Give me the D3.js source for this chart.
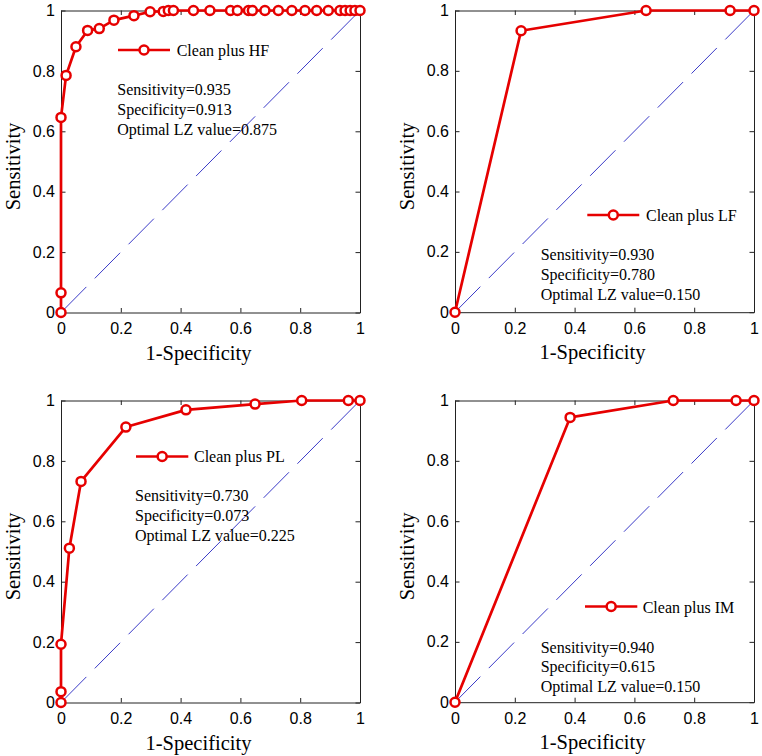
<!DOCTYPE html>
<html><head><meta charset="utf-8">
<script src="https://cdn.jsdelivr.net/npm/d3@7"></script>
<style>body{margin:0;background:#fff}svg{display:block}</style>
</head><body>
<script>
// ---- data ----
const hfX = [0,0,0,0.017,0.05,0.089,0.128,0.177,0.244,0.298,0.342,0.359,0.376,0.443,0.498,0.567,0.590,0.627,0.640,0.682,0.727,0.772,0.816,0.855,0.894,0.933,0.950,0.967,0.983,1.0];
const hfY = [0,0.065,0.646,0.785,0.88,0.934,0.94,0.968,0.983,0.996,0.997,1,1,1,1,1,1,1,1,1,1,1,1,1,1,1,1,1,1,1];
const lfX = [0,0.221,0.639,0.920,1];
const lfY = [0,0.933,1,1,1];
const plX = [0,0,0,0.028,0.067,0.217,0.418,0.649,0.805,0.961,1];
const plY = [0,0.036,0.193,0.511,0.732,0.912,0.969,0.988,1,1,1];
const imX = [0,0.385,0.730,0.940,1];
const imY = [0,0.944,1,1,1];
const tickVals = [0,0.2,0.4,0.6,0.8,1];
const tickLabels = ["0","0.2","0.4","0.6","0.8","1"];
const legendNames = ["Clean plus HF","Clean plus LF","Clean plus PL","Clean plus IM"];
const sensVals = ["0.935","0.930","0.730","0.940"];
const specVals = ["0.913","0.780","0.073","0.615"];
const lzVals = ["0.875","0.150","0.225","0.150"];
const xLabel = "1-Specificity";
const yLabel = "Sensitivity";

// ---- layout ----
const panels = [
  {xs:hfX, ys:hfY, box:[61,360,10.5,312.5], leg:{x1:57,x2:109,y:39.5,tx:115.7,ty:45.5}, st:{x:56.3,y:[74,94,114]}},
  {xs:lfX, ys:lfY, box:[455,754,10.5,312.2], leg:{x1:132.3,x2:184.3,y:204.5,tx:191,ty:210}, st:{x:85.7,y:[239,259,279]}},
  {xs:plX, ys:plY, box:[61,360,400.5,702.5], leg:{x1:75,x2:127.3,y:56,tx:133,ty:61.5}, st:{x:74,y:[90,110,130]}},
  {xs:imX, ys:imY, box:[455,754,400.5,702.2], leg:{x1:130,x2:182.3,y:206,tx:187.7,ty:212}, st:{x:85.7,y:[242,261,281]}}
];
const RED = "#e60000", BLUE = "#3b3bc8", AX = "#222";
const serif = "'Liberation Serif','Times New Roman',serif";
const sans = "'Liberation Sans',Arial,Helvetica,sans-serif";

const svg = d3.select("body").append("svg").attr("width",762).attr("height",756);

panels.forEach((p,i)=>{
  const [L,R,T,B] = p.box;
  const x = d3.scaleLinear().domain([0,1]).range([L,R]);
  const y = d3.scaleLinear().domain([0,1]).range([B,T]);
  const g = svg.append("g");

  // diagonal
  g.append("line").attr("x1",x(0)).attr("y1",y(0)).attr("x2",x(1)).attr("y2",y(1))
    .attr("stroke",BLUE).attr("stroke-width",1).attr("stroke-dasharray","36,12");

  // axes (inward ticks, box)
  const tl = 4.5;
  const bottom = g.append("g").attr("transform",`translate(0,${B})`)
    .call(d3.axisBottom(x).tickValues(tickVals).tickFormat((d,k)=>tickLabels[k]).tickSizeInner(-tl).tickSizeOuter(0).tickPadding(10));
  const left = g.append("g").attr("transform",`translate(${L},0)`)
    .call(d3.axisLeft(y).tickValues(tickVals).tickFormat((d,k)=>tickLabels[k]).tickSizeInner(-tl).tickSizeOuter(0).tickPadding(6));
  const top = g.append("g").attr("transform",`translate(0,${T})`)
    .call(d3.axisTop(x).tickValues(tickVals).tickFormat("").tickSizeInner(-tl).tickSizeOuter(0));
  const right = g.append("g").attr("transform",`translate(${R},0)`)
    .call(d3.axisRight(y).tickValues(tickVals).tickFormat("").tickSizeInner(-tl).tickSizeOuter(0));
  [bottom,left,top,right].forEach(a=>{
    a.select(".domain").attr("stroke",AX).attr("stroke-width",1);
    a.selectAll(".tick line").attr("stroke",AX).attr("stroke-width",1);
    a.selectAll("text").attr("font-family",sans).attr("font-size","16px").attr("fill","#000");
  });
  bottom.selectAll("text").attr("dy","0.71em");

  // axis labels
  g.append("text").attr("x",(L+R)/2-12).attr("y",B+47).attr("text-anchor","middle")
    .attr("font-family",serif).attr("font-size","20.5px").text(xLabel);
  g.append("text").attr("transform",`translate(${L-41},${(T+B)/2+5}) rotate(-90)`).attr("text-anchor","middle")
    .attr("font-family",serif).attr("font-size","20.5px").text(yLabel);

  // ROC curve
  const pts = p.xs.map((v,k)=>[v,p.ys[k]]);
  g.append("path").datum(pts).attr("fill","none").attr("stroke",RED).attr("stroke-width",2.7)
    .attr("stroke-linejoin","round")
    .attr("d",d3.line().x(d=>x(d[0])).y(d=>y(d[1])));
  g.selectAll("circle.m").data(pts).join("circle").attr("class","m")
    .attr("cx",d=>x(d[0])).attr("cy",d=>y(d[1])).attr("r",4.5)
    .attr("fill","#fff").attr("stroke",RED).attr("stroke-width",2.5);

  // legend
  const lg = p.leg;
  g.append("line").attr("x1",L+lg.x1).attr("x2",L+lg.x2).attr("y1",T+lg.y).attr("y2",T+lg.y)
    .attr("stroke",RED).attr("stroke-width",2.7);
  g.append("circle").attr("cx",L+(lg.x1+lg.x2)/2).attr("cy",T+lg.y).attr("r",4.5)
    .attr("fill","#fff").attr("stroke",RED).attr("stroke-width",2.5);
  g.append("text").attr("x",L+lg.tx).attr("y",T+lg.ty).attr("font-family",serif).attr("font-size","16px")
    .text(legendNames[i]);

  // stats
  const lines = ["Sensitivity="+sensVals[i],"Specificity="+specVals[i],"Optimal LZ value="+lzVals[i]];
  lines.forEach((t,k)=>{
    g.append("text").attr("x",L+p.st.x).attr("y",T+p.st.y[k]+10.3).attr("font-family",serif).attr("font-size","16px").text(t);
  });
});
</script>
</body></html>
